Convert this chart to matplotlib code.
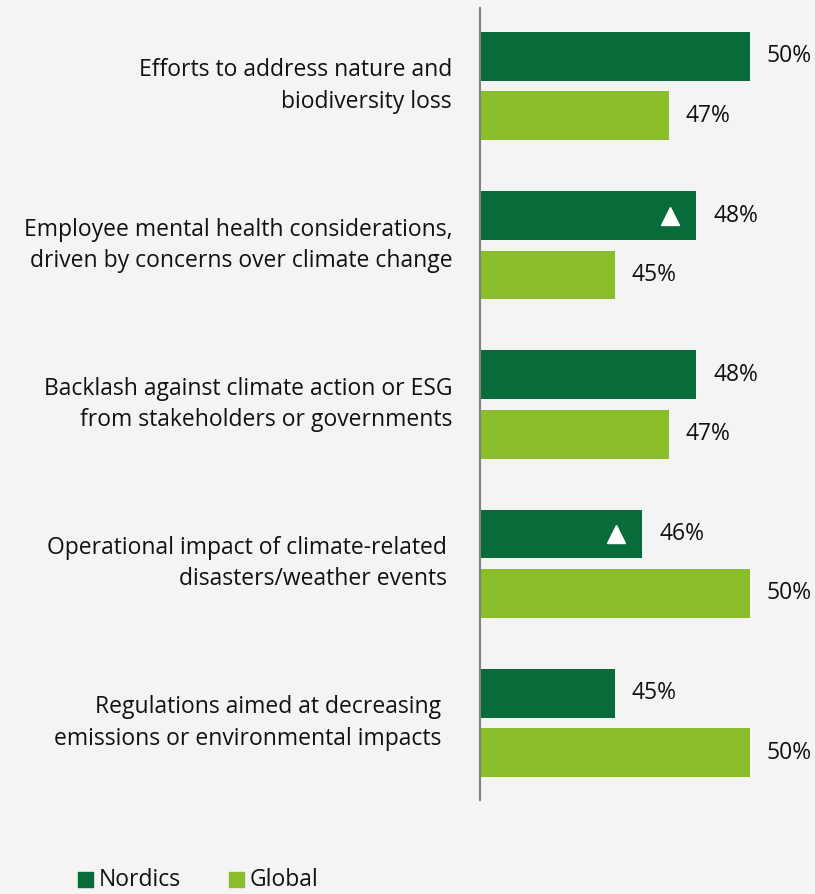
import matplotlib.pyplot as plt
import matplotlib.transforms as mtransforms
from matplotlib.patches import Rectangle

categories = [
    "Efforts to address nature and\nbiodiversity loss",
    "Employee mental health considerations,\ndriven by concerns over climate change",
    "Backlash against climate action or ESG\nfrom stakeholders or governments",
    "Operational impact of climate-related\ndisasters/weather events",
    "Regulations aimed at decreasing\nemissions or environmental impacts",
]
nordics = [50, 48, 48, 46, 45]
global_ = [47, 45, 47, 50, 50]
nordics_up = [False, True, False, True, False]  # white triangle markers

DARK = "#076b3a"
LIGHT = "#8abd2a"
BG = "#f4f4f4"
FS = 16.5

plt.rcParams['font.family'] = ['Open Sans', 'DejaVu Sans']

fig = plt.figure(figsize=(8.15, 8.94), dpi=100, facecolor=BG)
ax = fig.add_axes([480 / 815, 1 - 800 / 894, 335 / 815, 792 / 894])
ax.set_facecolor(BG)

x0 = 40
xmax = x0 + 335 / 27
off = 0.1865
h = 0.307
y = list(range(len(categories)))

ax.barh([i - off for i in y], [v - x0 for v in nordics], left=x0, height=h, color=DARK)
ax.barh([i + off for i in y], [v - x0 for v in global_], left=x0, height=h, color=LIGHT)

shift = mtransforms.ScaledTranslation(-26 / 100, 0, fig.dpi_scale_trans)
for i, (n, g) in enumerate(zip(nordics, global_)):
    ax.annotate(f"{n}%", (n, i - off), xytext=(17, 0), textcoords="offset pixels",
                va="center", ha="left", fontsize=FS, color="#111111")
    ax.annotate(f"{g}%", (g, i + off), xytext=(17, 0), textcoords="offset pixels",
                va="center", ha="left", fontsize=FS, color="#111111")
    if nordics_up[i]:
        ax.plot([n], [i - off], marker="^", markersize=13, color="white",
                linestyle="none", transform=ax.transData + shift, clip_on=False)

# category labels, right aligned left of the axis
label_pad = [28, 27, 28, 33, 39]
for i, (cat, p) in enumerate(zip(categories, label_pad)):
    ax.annotate(cat, (x0, i), xytext=(-p, 0), textcoords="offset pixels",
                ha="right", va="center", fontsize=FS, color="#111111",
                linespacing=1.4, annotation_clip=False)

ax.set_xlim(x0, xmax)
ax.set_ylim(len(categories) - 1 + 0.484, -0.49)
for s in ["top", "right", "bottom"]:
    ax.spines[s].set_visible(False)
ax.spines["left"].set_color("#808080")
ax.spines["left"].set_linewidth(1.5)
ax.set_xticks([])
ax.set_yticks([])

# legend at the bottom
fig.patches.append(Rectangle((78 / 815, 1 - 887 / 894), 15 / 815, 15 / 894,
                             transform=fig.transFigure, color=DARK))
fig.text(99 / 815, 1 - 886 / 894, "Nordics", fontsize=FS, va="baseline", color="#111111")
fig.patches.append(Rectangle((229 / 815, 1 - 887 / 894), 15 / 815, 15 / 894,
                             transform=fig.transFigure, color=LIGHT))
fig.text(250 / 815, 1 - 886 / 894, "Global", fontsize=FS, va="baseline", color="#111111")

fig.savefig("out.png", dpi=100, facecolor=BG)
